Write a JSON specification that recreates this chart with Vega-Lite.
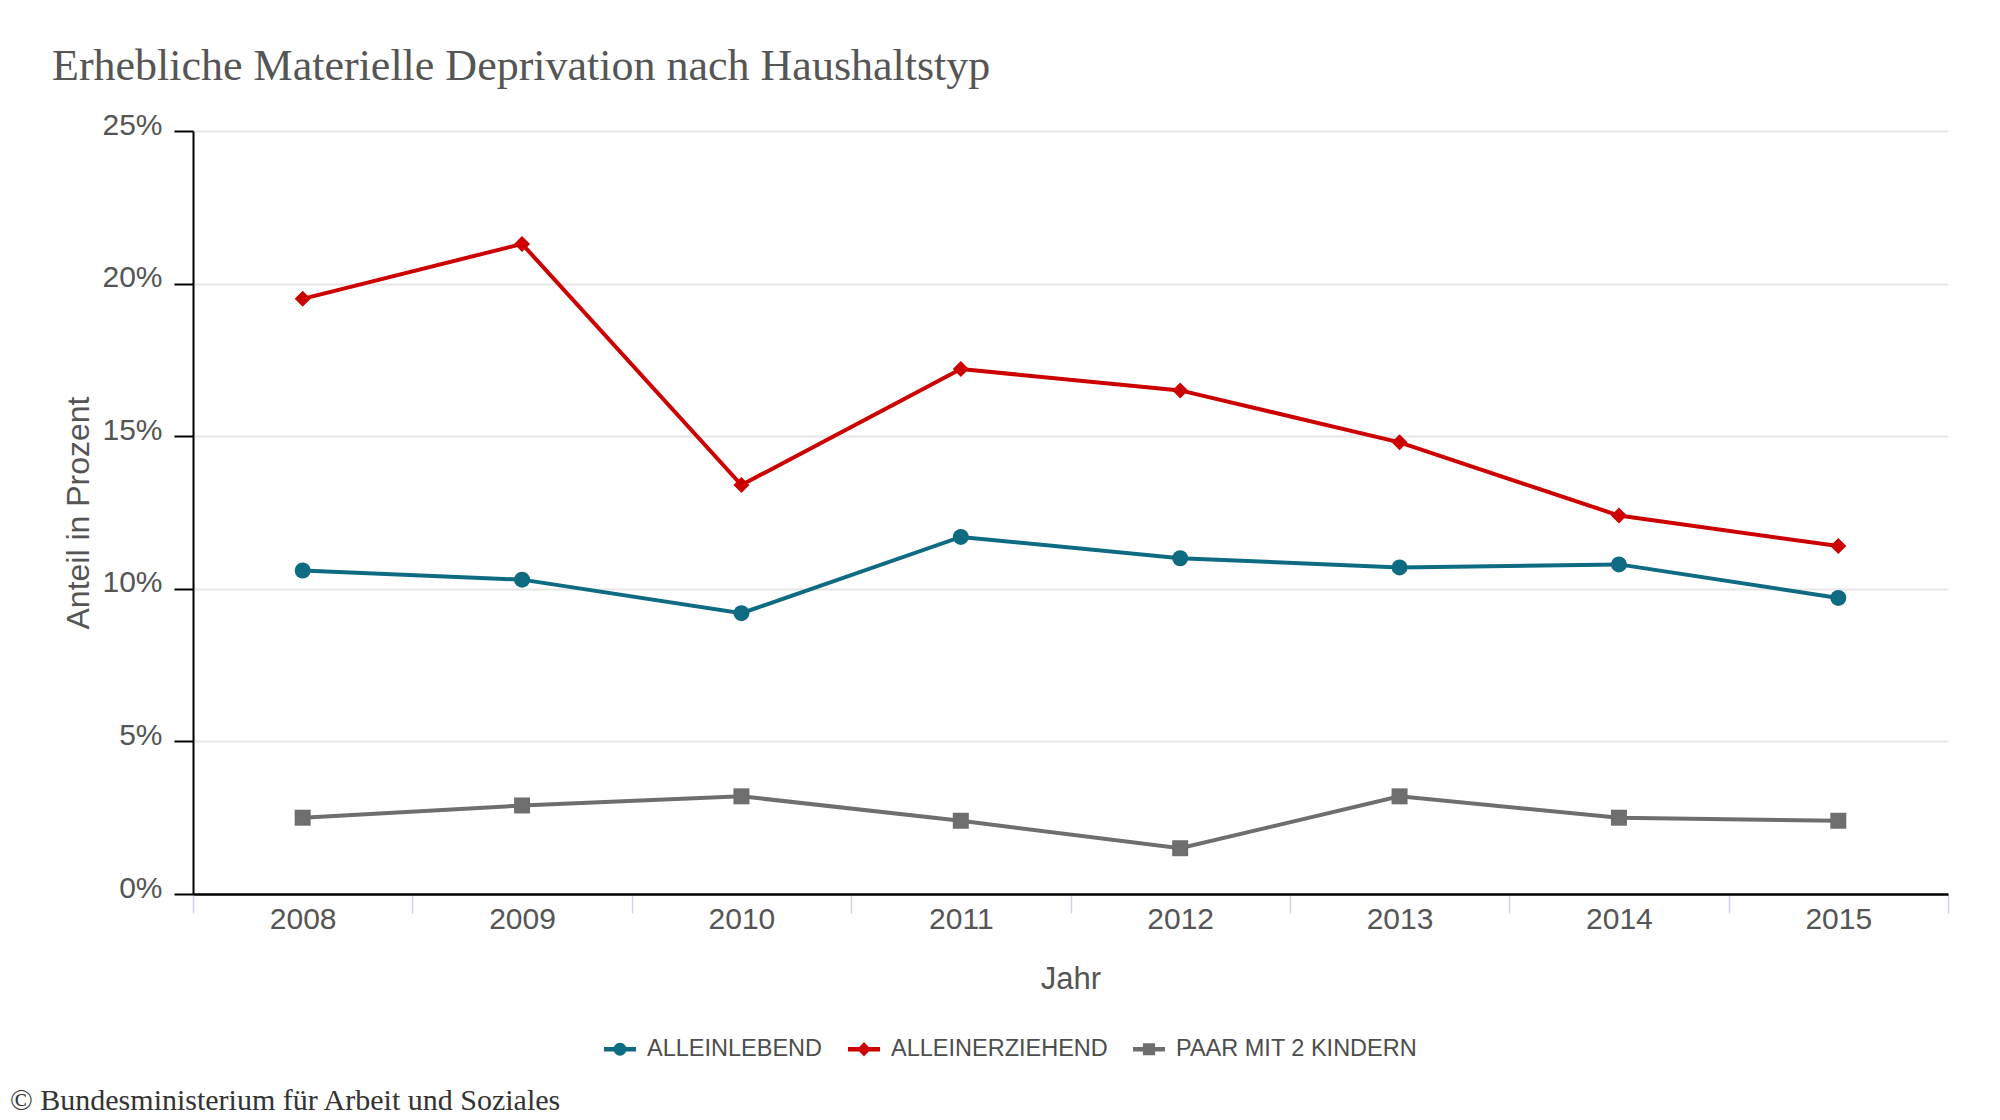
{
  "$schema": "https://vega.github.io/schema/vega-lite/v6.json",
  "background": "white",
  "padding": {"left": 10, "top": 45, "right": 52, "bottom": 6},
  "title": {
    "text": "Erhebliche Materielle Deprivation nach Haushaltstyp",
    "anchor": "start",
    "frame": "bounds",
    "dx": 42,
    "offset": 21,
    "font": "Liberation Serif",
    "fontSize": 44,
    "fontWeight": "normal",
    "color": "#555555"
  },
  "config": {
    "font": "Liberation Sans",
    "view": {"stroke": null}
  },
  "vconcat": [
    {
      "width": 1755,
      "height": 763,
      "title": {
        "text": "© Bundesministerium für Arbeit und Soziales",
        "orient": "bottom",
        "anchor": "start",
        "frame": "group",
        "dx": -183,
        "offset": 92,
        "font": "Liberation Serif",
        "fontSize": 30,
        "fontWeight": "normal",
        "color": "#333333"
      },
      "data": {
        "values": [
          {"Jahr": "2008", "Typ": "ALLEINLEBEND", "Anteil": 10.6},
          {"Jahr": "2009", "Typ": "ALLEINLEBEND", "Anteil": 10.3},
          {"Jahr": "2010", "Typ": "ALLEINLEBEND", "Anteil": 9.2},
          {"Jahr": "2011", "Typ": "ALLEINLEBEND", "Anteil": 11.7},
          {"Jahr": "2012", "Typ": "ALLEINLEBEND", "Anteil": 11.0},
          {"Jahr": "2013", "Typ": "ALLEINLEBEND", "Anteil": 10.7},
          {"Jahr": "2014", "Typ": "ALLEINLEBEND", "Anteil": 10.8},
          {"Jahr": "2015", "Typ": "ALLEINLEBEND", "Anteil": 9.7},
          {"Jahr": "2008", "Typ": "ALLEINERZIEHEND", "Anteil": 19.5},
          {"Jahr": "2009", "Typ": "ALLEINERZIEHEND", "Anteil": 21.3},
          {"Jahr": "2010", "Typ": "ALLEINERZIEHEND", "Anteil": 13.4},
          {"Jahr": "2011", "Typ": "ALLEINERZIEHEND", "Anteil": 17.2},
          {"Jahr": "2012", "Typ": "ALLEINERZIEHEND", "Anteil": 16.5},
          {"Jahr": "2013", "Typ": "ALLEINERZIEHEND", "Anteil": 14.8},
          {"Jahr": "2014", "Typ": "ALLEINERZIEHEND", "Anteil": 12.4},
          {"Jahr": "2015", "Typ": "ALLEINERZIEHEND", "Anteil": 11.4},
          {"Jahr": "2008", "Typ": "PAAR MIT 2 KINDERN", "Anteil": 2.5},
          {"Jahr": "2009", "Typ": "PAAR MIT 2 KINDERN", "Anteil": 2.9},
          {"Jahr": "2010", "Typ": "PAAR MIT 2 KINDERN", "Anteil": 3.2},
          {"Jahr": "2011", "Typ": "PAAR MIT 2 KINDERN", "Anteil": 2.4},
          {"Jahr": "2012", "Typ": "PAAR MIT 2 KINDERN", "Anteil": 1.5},
          {"Jahr": "2013", "Typ": "PAAR MIT 2 KINDERN", "Anteil": 3.2},
          {"Jahr": "2014", "Typ": "PAAR MIT 2 KINDERN", "Anteil": 2.5},
          {"Jahr": "2015", "Typ": "PAAR MIT 2 KINDERN", "Anteil": 2.4}
        ]
      },
      "encoding": {
        "x": {
          "field": "Jahr",
          "type": "ordinal",
          "scale": {"type": "band", "paddingInner": 0, "paddingOuter": 0},
          "axis": {
            "title": "Jahr",
            "labelAngle": 0,
            "tickBand": "extent",
            "tickColor": "#ccd6eb",
            "tickSize": 19,
            "tickWidth": 1.5,
            "domainColor": "#000000",
            "domainWidth": 2.5,
            "grid": false,
            "labelFont": "Liberation Sans",
            "labelFontSize": 30,
            "labelColor": "#555555",
            "labelPadding": -9,
            "titleFont": "Liberation Sans",
            "titleFontSize": 31,
            "titleFontWeight": "normal",
            "titleColor": "#555555",
            "titlePadding": 30
          }
        },
        "y": {
          "field": "Anteil",
          "type": "quantitative",
          "scale": {"domain": [0, 25], "nice": false},
          "axis": {
            "title": "Anteil in Prozent",
            "values": [0, 5, 10, 15, 20, 25],
            "labelExpr": "datum.value + '%'",
            "tickColor": "#000000",
            "tickSize": 19,
            "tickWidth": 2,
            "domainColor": "#000000",
            "domainWidth": 2,
            "gridColor": "#e6e6e6",
            "gridWidth": 2,
            "labelFont": "Liberation Sans",
            "labelFontSize": 30,
            "labelColor": "#555555",
            "labelPadding": 12,
            "labelOffset": -6,
            "titleFont": "Liberation Sans",
            "titleFontSize": 32,
            "titleFontWeight": "normal",
            "titleColor": "#555555",
            "titlePadding": 6
          }
        },
        "color": {
          "field": "Typ",
          "type": "nominal",
          "sort": ["ALLEINLEBEND", "ALLEINERZIEHEND", "PAAR MIT 2 KINDERN"],
          "scale": {
            "domain": ["ALLEINLEBEND", "ALLEINERZIEHEND", "PAAR MIT 2 KINDERN"],
            "range": ["#0e6b82", "#cc0000", "#6e6e6e"]
          },
          "legend": {
            "title": null,
            "orient": "none",
            "direction": "horizontal",
            "legendX": 411,
            "legendY": 902,
            "symbolSize": 1024,
            "columnPadding": 25,
            "labelOffset": 11,
            "labelLimit": 600,
            "labelFont": "Liberation Sans",
            "labelFontSize": 23.5,
            "labelColor": "#4d4d4d",
            "encode": {
              "symbols": {
                "update": {
                  "shape": {"signal": "datum.value === 'ALLEINLEBEND' ? 'M-1,-0.14H1V0.14H-1Z M0.4,0A0.4,0.4 0 1,1 -0.4,0A0.4,0.4 0 1,1 0.4,0Z' : datum.value === 'ALLEINERZIEHEND' ? 'M-1,-0.14H1V0.14H-1Z M0,-0.45L0.42,0L0,0.45L-0.42,0Z' : 'M-1,-0.14H1V0.14H-1Z M-0.38,-0.38H0.38V0.38H-0.38Z'"},
                  "fill": {"scale": "color", "field": "value"},
                  "strokeWidth": {"value": 0},
                  "opacity": {"value": 1}
                }
              }
            }
          }
        }
      },
      "layer": [
        {
          "mark": {"type": "line", "strokeWidth": 4}
        },
        {
          "transform": [{"filter": "datum.Typ === 'ALLEINLEBEND'"}],
          "mark": {"type": "point", "shape": "circle", "filled": true, "size": 256, "opacity": 1}
        },
        {
          "transform": [{"filter": "datum.Typ === 'ALLEINERZIEHEND'"}],
          "mark": {"type": "point", "shape": "diamond", "filled": true, "size": 256, "opacity": 1}
        },
        {
          "transform": [{"filter": "datum.Typ === 'PAAR MIT 2 KINDERN'"}],
          "mark": {"type": "point", "shape": "square", "filled": true, "size": 256, "opacity": 1}
        }
      ]
    }
  ]
}
